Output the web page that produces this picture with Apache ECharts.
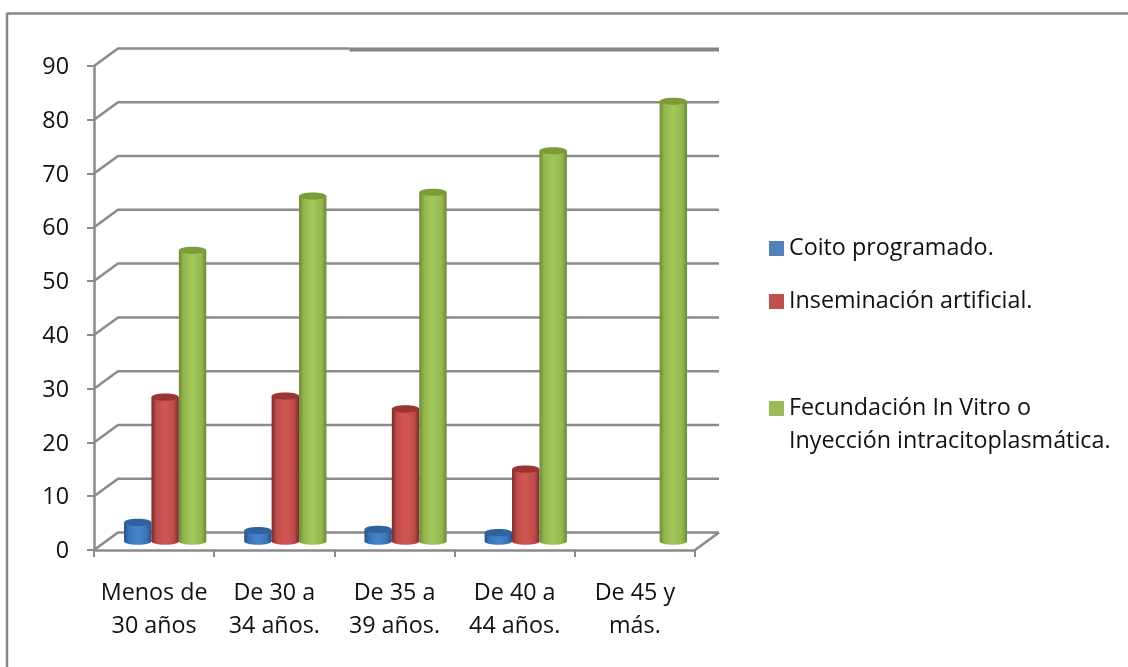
<!DOCTYPE html>
<html>
<head>
<meta charset="utf-8">
<style>html,body{margin:0;padding:0;background:#fff}#c{width:1128px;height:667px}</style>
<script src="https://cdn.jsdelivr.net/npm/echarts@6/dist/echarts.min.js"></script>
</head>
<body>
<div id="c"></div>
<script>
const categories = ['Menos de\n30 años', 'De 30 a\n34 años.', 'De 35 a\n39 años.', 'De 40 a\n44 años.', 'De 45 y\nmás.'];
const yTicks = [0, 10, 20, 30, 40, 50, 60, 70, 80, 90];
const coito = [3.5, 2.0, 2.2, 1.6, null];
const inseminacion = [26.8, 27.0, 24.6, 13.4, null];
const fecundacion = [54.1, 64.2, 64.9, 72.6, 81.8];
const nameCoito = 'Coito programado.';
const nameInsem = 'Inseminación artificial.';
const nameFecund = 'Fecundación In Vitro o\nInyección intracitoplasmática.';

const FONT = '"Open Sans"';
const FSIZE = 23.3;
const LINE = '#8b8b8b';
const DEPTH = [24, 17.5];

function wallItem(params, api) {
  const v = api.value(0);
  const y = api.coord([0, v])[1];
  const cs = params.coordSys;
  const x0 = cs.x, x1 = cs.x + cs.width;
  const isTop = v === yTicks[yTicks.length - 1];
  const style = {stroke: LINE, lineWidth: 2.5, fill: null};
  const kids = [];
  const breakX = x0 + cs.width * 0.425;
  kids.push({type: 'polyline', shape: {points: [[x0, y], [x0 + DEPTH[0], y - DEPTH[1]], [isTop ? breakX : x1 + DEPTH[0], y - DEPTH[1]]]}, style});
  if (isTop) {
    kids.push({type: 'line', shape: {x1: breakX, y1: y - DEPTH[1] + 1, x2: x1 + DEPTH[0], y2: y - DEPTH[1] + 1}, style: {stroke: '#858585', lineWidth: 4}});
  }
  if (v === 0) {
    kids.push({type: 'line', shape: {x1: x1, y1: y, x2: x1 + DEPTH[0], y2: y - DEPTH[1]}, style});
  }
  return {type: 'group', children: kids};
}

function cylinder(idx, colors) {
  return function (params, api) {
    const i = api.value(0), v = api.value(1);
    if (v == null || isNaN(v)) return null;
    const band = api.size([1, 0])[0];
    const w = band * 0.228;
    const c = api.coord([i, v]);
    const base = api.coord([i, 0]);
    const cx = c[0] + DEPTH[0] * 0.46 + (idx - 1) * w;
    const left = cx - w / 2;
    const yb = base[1] - DEPTH[1] / 2, yt = c[1] - DEPTH[1] / 2;
    const ry = 3.6;
    const grad = {type: 'linear', x: 0, y: 0, x2: 1, y2: 0, colorStops: [
      {offset: 0, color: colors[0]}, {offset: 0.18, color: colors[1]},
      {offset: 0.5, color: colors[2]}, {offset: 0.82, color: colors[1]}, {offset: 1, color: colors[0]}]};
    return {type: 'group', children: [
      {type: 'ellipse', shape: {cx: cx, cy: yb, rx: w / 2, ry: ry}, style: {fill: grad}},
      {type: 'rect', shape: {x: left, y: yt, width: w, height: yb - yt}, style: {fill: grad}},
      {type: 'ellipse', shape: {cx: cx, cy: yt, rx: w / 2, ry: ry}, style: {fill: colors[3]}}
    ]};
  };
}

function legendAt(name, top, text) {
  return {
    orient: 'vertical', left: 764, top: top, data: [name], selectedMode: false,
    icon: 'rect', itemWidth: 15, itemHeight: 15, itemGap: 0,
    formatter: () => text,
    textStyle: {fontFamily: FONT, fontSize: FSIZE, lineHeight: 33, color: '#111'}
  };
}

const chart = echarts.init(document.getElementById('c'), null, {renderer: 'canvas'});
chart.setOption({
  backgroundColor: '#fff',
  animation: false,
  graphic: [
    {type: 'line', silent: true, shape: {x1: 7, y1: 13.5, x2: 1128, y2: 13.5}, style: {stroke: '#878787', lineWidth: 2.5}},
    {type: 'line', silent: true, shape: {x1: 7, y1: 13, x2: 7, y2: 667}, style: {stroke: '#878787', lineWidth: 2.5}}
  ],
  legend: [
    legendAt(nameCoito, 227, nameCoito),
    legendAt(nameInsem, 280, nameInsem),
    legendAt(nameFecund, 354, '\n' + nameFecund)
  ],
  grid: {left: 94, top: 66, width: 601, height: 484},
  xAxis: {
    type: 'category', data: categories,
    axisLine: {lineStyle: {color: LINE, width: 2.5}},
    axisTick: {show: true, alignWithLabel: false, length: 7, lineStyle: {color: LINE, width: 2}},
    axisLabel: {margin: 27, interval: 0, fontFamily: FONT, fontSize: FSIZE, lineHeight: 33, color: '#111'},
    splitLine: {show: false}
  },
  yAxis: {
    type: 'value', min: 0, max: 90, interval: 10,
    axisLine: {show: true, lineStyle: {color: LINE, width: 2.5}},
    axisTick: {show: true, length: 7, lineStyle: {color: LINE, width: 2}},
    axisLabel: {margin: 25, fontFamily: FONT, fontSize: FSIZE, color: '#111', verticalAlign: 'top', lineHeight: 3},
    splitLine: {show: false}
  },
  series: [
    {type: 'custom', silent: true, z: 1, data: yTicks.map(v => [v]), encode: {y: 0}, renderItem: wallItem},
    {type: 'custom', name: nameCoito, z: 3, itemStyle: {color: '#4f81bd'}, encode: {x: 0, y: 1},
      data: coito.map((v, i) => [i, v]), renderItem: cylinder(0, ['#24528c', '#3a75b8', '#4585cf', '#2f639f'])},
    {type: 'custom', name: nameInsem, z: 4, itemStyle: {color: '#c0504d'}, encode: {x: 0, y: 1},
      data: inseminacion.map((v, i) => [i, v]), renderItem: cylinder(1, ['#7a2b29', '#bf4c49', '#d25754', '#9c3431'])},
    {type: 'custom', name: nameFecund, z: 5, itemStyle: {color: '#9bbb59'}, encode: {x: 0, y: 1},
      data: fecundacion.map((v, i) => [i, v]), renderItem: cylinder(2, ['#6d8a36', '#93b84e', '#a4c75b', '#7c9c3a'])}
  ]
});
</script>
</body>
</html>
